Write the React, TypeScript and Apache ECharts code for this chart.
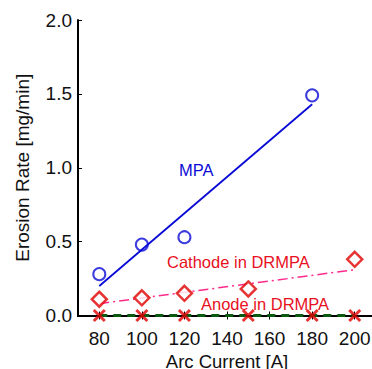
import React, { useEffect, useRef } from "react";
import * as echarts from "echarts";

const xTicks = [80, 100, 120, 140, 160, 180, 200];
const mpaPoints: [number, number][] = [[80, 0.28], [100, 0.48], [120, 0.53], [180, 1.49]];
const mpaFit: [number, number][] = [[80, 0.2], [180, 1.43]];
const cathodePoints: [number, number][] = [[80, 0.11], [100, 0.12], [120, 0.15], [150, 0.18], [200, 0.38]];
const cathodeFit: [number, number][] = [[80, 0.08], [200, 0.31]];
const anodePoints: [number, number][] = [[80, 0], [100, 0], [120, 0], [150, 0], [180, 0], [200, 0]];
const anodeFit: [number, number][] = [[80, 0], [200, 0]];

const FONT = "Liberation Sans, Arial, sans-serif";
const xSym = "path://M0,0L10,10M10,0L0,10";

export default function App() {
  const ref = useRef<HTMLDivElement>(null);
  useEffect(() => {
    if (!ref.current) return;
    const chart = echarts.init(ref.current, undefined, { renderer: "svg" });
    const axisLine = { show: true, lineStyle: { color: "#000", width: 2 } };
    chart.setOption({
      animation: false,
      backgroundColor: "#fff",
      grid: { left: 78, top: 20, right: 0, bottom: 53.5, containLabel: false, outerBoundsMode: "none" },
      xAxis: [
        {
          type: "value", min: 70, max: 210, position: "bottom",
          axisLine, splitLine: { show: false },
          axisTick: { show: true, inside: true, length: 4, customValues: xTicks, lineStyle: { color: "#000", width: 1 } },
          axisLabel: { customValues: xTicks, color: "#111", fontSize: 19, fontFamily: FONT, margin: 13 },
          name: "Arc Current [A]", nameLocation: "middle", nameGap: 29,
          nameTextStyle: { color: "#111", fontSize: 18.5, lineHeight: 19, fontFamily: FONT },
        },
        {
          type: "value", min: 70, max: 210, position: "top",
          axisLine, splitLine: { show: false },
          axisTick: { show: true, inside: true, length: 4, customValues: xTicks, lineStyle: { color: "#000", width: 1 } },
          axisLabel: { show: false },
        },
      ],
      yAxis: [
        {
          type: "value", min: 0, max: 2, interval: 0.5, position: "left",
          axisLine, splitLine: { show: false },
          axisTick: { show: true, inside: true, length: 4, lineStyle: { color: "#000", width: 1 } },
          axisLabel: { color: "#111", fontSize: 19, fontFamily: FONT, margin: 6, formatter: (v: number) => v.toFixed(1) },
          name: "Erosion Rate [mg/min]", nameLocation: "middle", nameGap: 46, nameRotate: 90,
          nameTextStyle: { color: "#111", fontSize: 19, fontFamily: FONT },
        },
        {
          type: "value", min: 0, max: 2, interval: 0.5, position: "right",
          axisLine, splitLine: { show: false },
          axisTick: { show: true, inside: true, length: 4, lineStyle: { color: "#000", width: 1 } },
          axisLabel: { show: false },
        },
      ],
      series: [
        { type: "line", data: anodeFit, symbol: "none", z: 2, lineStyle: { color: "#0b5a12", width: 3, type: [8, 6] } },
        { type: "line", data: cathodeFit, symbol: "none", z: 2, lineStyle: { color: "#ff2a8a", width: 1.5, type: [10, 4, 2, 4] } },
        { type: "line", data: mpaFit, symbol: "none", z: 2, lineStyle: { color: "#0a0ad6", width: 1.8 } },
        { type: "scatter", data: mpaPoints, symbol: "circle", symbolSize: 12, z: 3, itemStyle: { color: "rgba(0,0,0,0)", borderColor: "#0a0ad6", borderWidth: 2 } },
        { type: "scatter", data: cathodePoints, symbol: "diamond", symbolSize: 15, z: 3, itemStyle: { color: "#fff", borderColor: "#e00000", borderWidth: 2.5 } },
        { type: "scatter", data: anodePoints, symbol: xSym, symbolSize: 11, z: 4, itemStyle: { color: "rgba(0,0,0,0)", borderColor: "#e00000", borderWidth: 3 } },
      ],
      graphic: [
        { type: "text", left: 179, top: 161, style: { text: "MPA", fill: "#0a0ad6", font: `16.5px ${FONT}` } },
        { type: "text", left: 167, top: 253, style: { text: "Cathode in DRMPA", fill: "#e8101e", font: `16.5px ${FONT}` } },
        { type: "text", left: 201, top: 295, style: { text: "Anode in DRMPA", fill: "#e8101e", font: `16.5px ${FONT}` } },
      ],
    });
    return () => chart.dispose();
  }, []);
  return (
    <div style={{ position: "fixed", left: 0, top: 0, width: 372, height: 369, overflow: "hidden" }}>
      <div ref={ref} style={{ width: 376, height: 369 }} />
    </div>
  );
}
